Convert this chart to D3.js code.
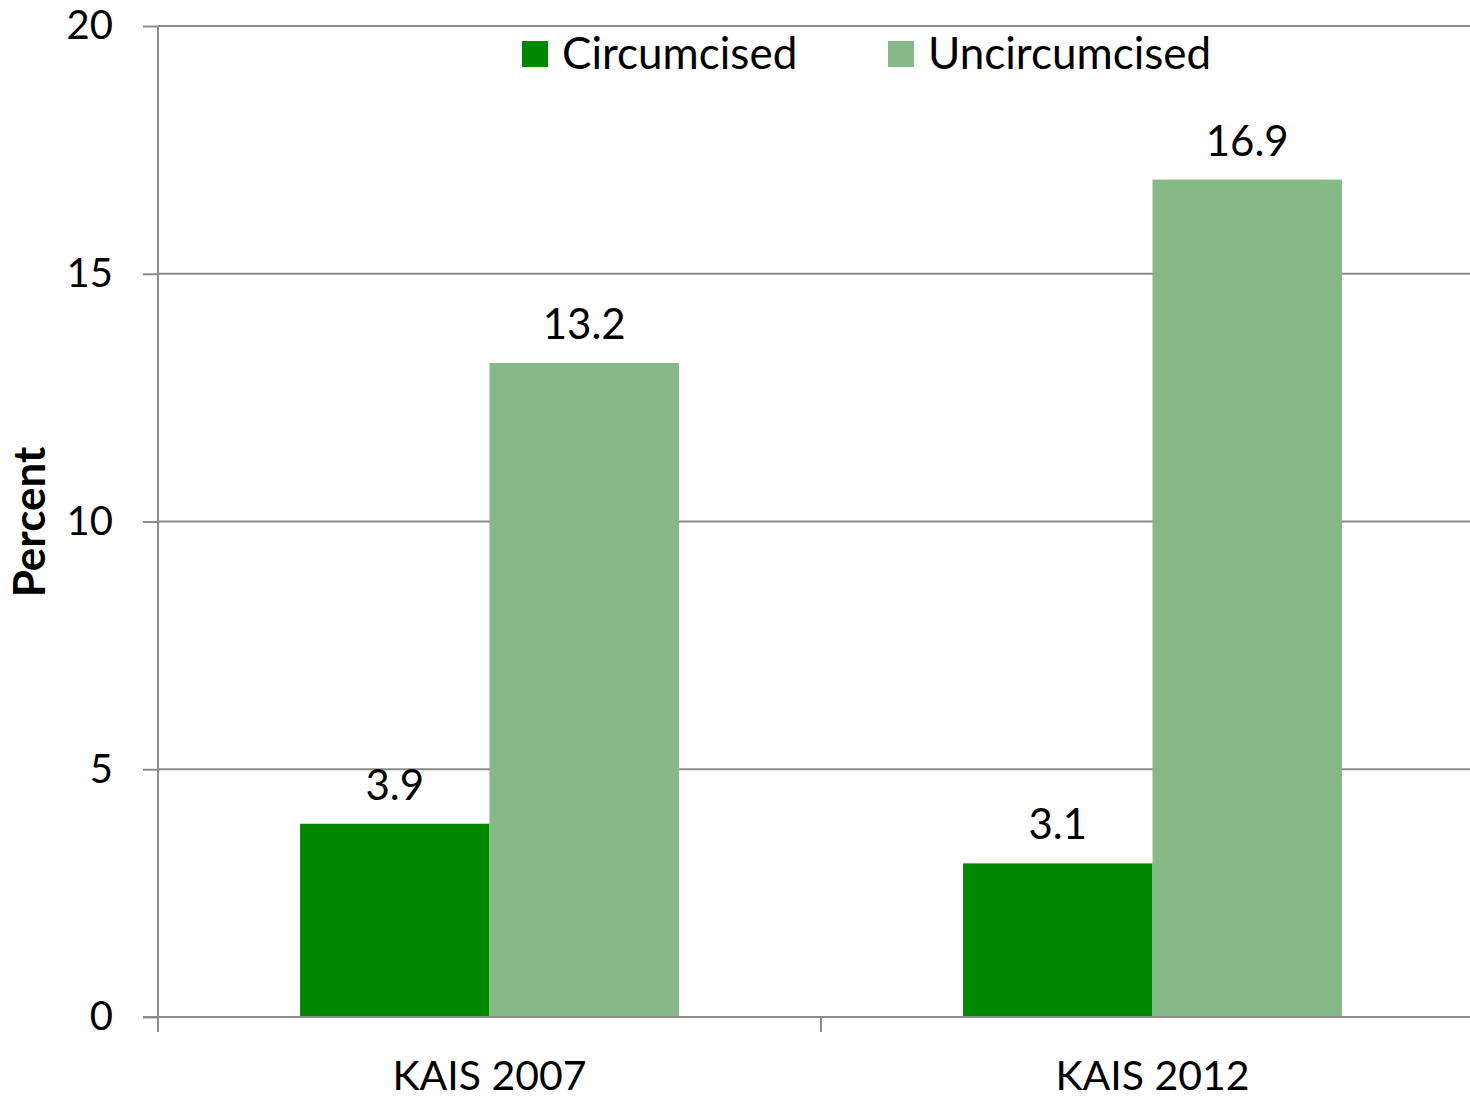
<!DOCTYPE html>
<html>
<head>
<meta charset="utf-8">
<script src="https://cdn.jsdelivr.net/npm/d3@7"></script>
<style>
  body { margin: 0; background: #fff; }
  svg { display: block; font-family: Lato, "Open Sans", sans-serif; }
</style>
</head>
<body>
<div id="chart"></div>
<script>
// data
var surveys = ["KAIS 2007", "KAIS 2012"];
var groups = ["Circumcised", "Uncircumcised"];
var circumcised = [3.9, 3.1];
var uncircumcised = [13.2, 16.9];
var yTicks = [0, 5, 10, 15, 20];
var colors = ["#008800", "#87b887"];

var W = 1470, H = 1099;
var m = { left: 158, right: 1484, top: 26, bottom: 1017 };

var svg = d3.select("#chart").append("svg")
    .attr("width", W)
    .attr("height", H);

var x = d3.scaleBand().domain(surveys).range([m.left, m.right]);
var x1 = d3.scaleBand().domain(groups).range([0, x.bandwidth()]).paddingInner(0).paddingOuter(0.75);
var y = d3.scaleLinear().domain([0, 20]).range([m.bottom, m.top]);

var rows = surveys.map((s, i) => ({ survey: s, values: [circumcised[i], uncircumcised[i]] }));

// y axis ticks + labels
var yAxis = svg.append("g")
    .attr("transform", "translate(" + m.left + ",0)")
    .call(d3.axisLeft(y).tickValues(yTicks).tickSize(15).tickPadding(30).tickFormat(d3.format("d")));
yAxis.select(".domain").remove();
yAxis.selectAll(".tick line").attr("stroke", "#8c8c8c").attr("stroke-width", 2);
yAxis.selectAll(".tick text").attr("font-size", 40).attr("fill", "#000").attr("font-family", "Lato, sans-serif");

// gridlines
svg.append("g")
    .selectAll("line")
    .data(yTicks.filter(d => d > 0))
    .enter().append("line")
    .attr("x1", m.left).attr("x2", W)
    .attr("y1", d => y(d)).attr("y2", d => y(d))
    .attr("stroke", "#8c8c8c").attr("stroke-width", 2);

svg.append("line")
    .attr("x1", m.left).attr("x2", m.left)
    .attr("y1", m.top).attr("y2", m.bottom)
    .attr("stroke", "#8c8c8c").attr("stroke-width", 2);

// bars
var g = svg.append("g")
    .selectAll("g")
    .data(rows)
    .enter().append("g")
    .attr("transform", d => "translate(" + x(d.survey) + ",0)");

g.selectAll("rect")
    .data(d => d.values.map((v, i) => ({ group: groups[i], value: v, i: i })))
    .enter().append("rect")
    .attr("x", d => x1(d.group))
    .attr("y", d => y(d.value))
    .attr("width", x1.bandwidth())
    .attr("height", d => m.bottom - y(d.value))
    .attr("fill", d => colors[d.i]);

g.selectAll("text")
    .data(d => d.values.map((v, i) => ({ group: groups[i], value: v })))
    .enter().append("text")
    .attr("x", d => x1(d.group) + x1.bandwidth() / 2)
    .attr("y", d => y(d.value) - 24)
    .attr("text-anchor", "middle")
    .attr("font-size", 42)
    .text(d => d3.format(".1f")(d.value));

// x axis
var xAxis = svg.append("g")
    .attr("transform", "translate(0," + m.bottom + ")")
    .call(d3.axisBottom(x).tickSize(0).tickPadding(44));
xAxis.select(".domain").remove();
xAxis.selectAll(".tick text").attr("font-size", 41).attr("fill", "#000").attr("font-family", "Lato, sans-serif");

svg.append("line")
    .attr("x1", m.left - 15).attr("x2", W)
    .attr("y1", m.bottom).attr("y2", m.bottom)
    .attr("stroke", "#8c8c8c").attr("stroke-width", 2);

svg.append("g")
    .selectAll("line")
    .data([m.left, x(surveys[1])])
    .enter().append("line")
    .attr("x1", d => d).attr("x2", d => d)
    .attr("y1", m.bottom).attr("y2", m.bottom + 15)
    .attr("stroke", "#8c8c8c").attr("stroke-width", 2);

// y title
svg.append("text")
    .attr("transform", "translate(45,522) rotate(-90)")
    .attr("text-anchor", "middle")
    .attr("font-size", 44)
    .attr("font-weight", "bold")
    .text("Percent");

// legend
var legendX = [522, 888];
var legend = svg.append("g")
    .selectAll("g")
    .data(groups)
    .enter().append("g")
    .attr("transform", (d, i) => "translate(" + legendX[i] + ",41)");
legend.append("rect")
    .attr("width", 26).attr("height", 26)
    .attr("fill", (d, i) => colors[i]);
legend.append("text")
    .attr("x", 40).attr("y", 28)
    .attr("font-size", 44)
    .text(d => d);
</script>
</body>
</html>
